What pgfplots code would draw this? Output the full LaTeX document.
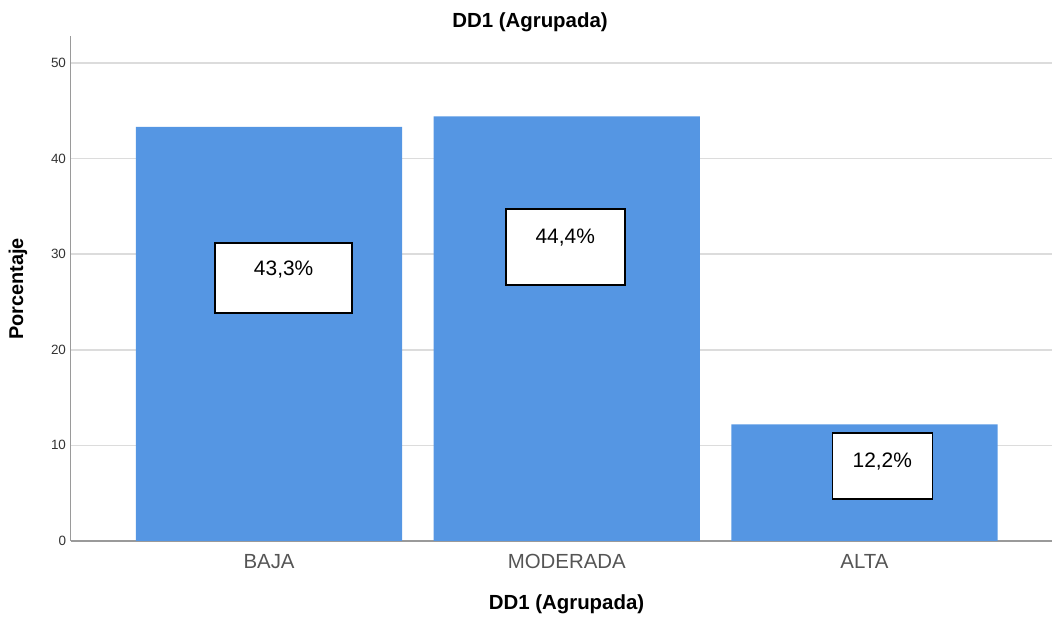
\documentclass[border=0pt]{standalone}
\usepackage{fontspec}
\setmainfont{Liberation Sans}
\usepackage{pgfplots}
\pgfplotsset{compat=1.18}
\definecolor{barblue}{HTML}{5596E3}
\definecolor{gridgray}{HTML}{DCDCDC}
\definecolor{axisgray}{HTML}{9A9A9A}
\definecolor{ticktext}{HTML}{333333}
\definecolor{cattext}{HTML}{555555}

\begin{document}
\begin{tikzpicture}
\useasboundingbox (0,0) rectangle (1054bp,617bp);
\begin{axis}[
  at={(70.5bp,76bp)},
  anchor=south west,
  scale only axis,
  width=981.5bp,
  height=505bp,
  xmin=-0.667, xmax=2.63,
  ymin=0, ymax=52.8,
  ytick={0,10,20,30,40,50},
  xtick={0,1,2},
  xticklabels={BAJA,MODERADA,ALTA},
  axis x line=bottom,
  axis y line=left,
  axis line style={draw=axisgray, line width=1.6bp, -},
  major tick length=0pt,
  ymajorgrids,
  major grid style={draw=gridgray, line width=1.6bp},
  /pgf/number format/assume math mode=true,
  y tick label style={font=\fontsize{13.5}{15}\selectfont, text=ticktext, xshift=-1bp},
  x tick label style={font=\fontsize{20.5}{22}\selectfont, text=cattext, anchor=base, yshift=-28bp},
  ybar,
  bar width=0.894,
  bar shift=0pt,
]
\addplot[fill=barblue, draw=none] coordinates {(0,43.3) (1,44.4) (2,12.2)};
% value boxes
\node[draw=black, fill=white, line width=1.5bp, minimum width=137bp, minimum height=70bp, inner sep=0pt] at (axis cs:0.049,27.5) {};
\node[font=\fontsize{21}{23}\selectfont] at (axis cs:0.049,28.35) {43,3\%};
\node[draw=black, fill=white, line width=1.5bp, minimum width=119bp, minimum height=76bp, inner sep=0pt] at (axis cs:0.995,30.75) {};
\node[font=\fontsize{21}{23}\selectfont] at (axis cs:0.995,31.7) {44,4\%};
\node[draw=black, fill=white, line width=1.5bp, minimum width=100bp, minimum height=66bp, inner sep=0pt] at (axis cs:2.06,7.85) {};
\node[font=\fontsize{21}{23}\selectfont] at (axis cs:2.06,8.26) {12,2\%};
\end{axis}
\node[font=\bfseries\fontsize{20.5}{22}\selectfont] at (530bp,595bp) {DD1 (Agrupada)};
\node[font=\bfseries\fontsize{20.5}{22}\selectfont] at (566.5bp,13bp) {DD1 (Agrupada)};
\node[font=\bfseries\fontsize{20}{22}\selectfont, rotate=90] at (18bp,328bp) {Porcentaje};
\end{tikzpicture}
\end{document}
